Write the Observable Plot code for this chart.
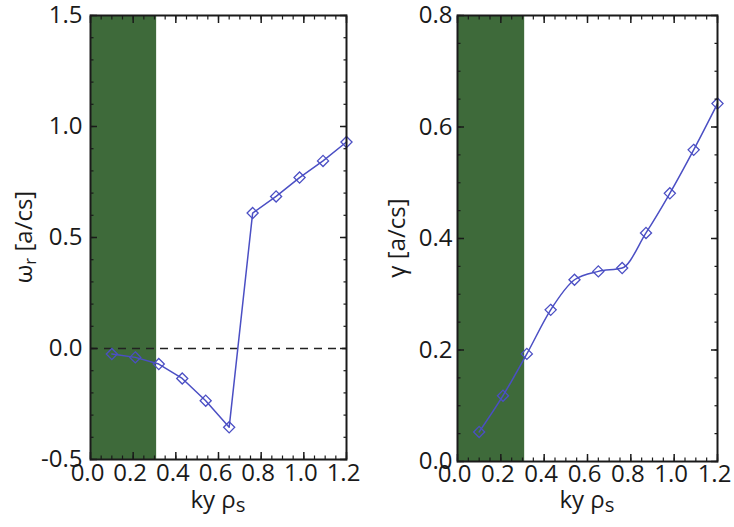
<!DOCTYPE html>
<html><head><meta charset="utf-8">
<script src="https://cdn.jsdelivr.net/npm/d3@7"></script>
<script src="https://cdn.jsdelivr.net/npm/@observablehq/plot@0.6"></script>
<style>
body{margin:0;background:#fff;}
#row{display:flex;width:734px;height:527px;overflow:hidden;}
#row svg{display:block;overflow:visible;}
</style></head><body><div id="row"></div>
<script>
// ---- data ----
const ky = [0.10, 0.21, 0.32, 0.43, 0.54, 0.65, 0.76, 0.87, 0.98, 1.09, 1.20];
const omegaR = [-0.025, -0.04, -0.07, -0.135, -0.235, -0.355, 0.61, 0.685, 0.77, 0.845, 0.93];
const gammaV = [0.053, 0.118, 0.193, 0.272, 0.326, 0.341, 0.347, 0.41, 0.481, 0.559, 0.642];
const bandKy = [0, 0.31];
const xTicks = [0, 0.2, 0.4, 0.6, 0.8, 1.0, 1.2];
const xMinor = [0,0.05,0.1,0.15,0.2,0.25,0.3,0.35,0.4,0.45,0.5,0.55,0.6,0.65,0.7,0.75,0.8,0.85,0.9,0.95,1.0,1.05,1.1,1.15,1.2];
const omegaTicks = [-0.5, 0.0, 0.5, 1.0, 1.5];
const omegaMinor = [-0.5,-0.4,-0.3,-0.2,-0.1,0,0.1,0.2,0.3,0.4,0.5,0.6,0.7,0.8,0.9,1.0,1.1,1.2,1.3,1.4,1.5];
const gammaTicks = [0.0, 0.2, 0.4, 0.6, 0.8];
const gammaMinor = [0,0.05,0.1,0.15,0.2,0.25,0.3,0.35,0.4,0.45,0.5,0.55,0.6,0.65,0.7,0.75,0.8];
const zeroLine = [0];

const GREEN = "#3e6a3a";
const BLUE = "#4b4fc4";
const INK = "#1a1a1a";
const fmt = d => d.toFixed(1);

function panel(o) {
  const data = ky.map((k, i) => ({k, v: o.values[i]}));
  const hidden = {fill: "none", label: null};
  const marks = [
    Plot.rect([bandKy], {x1: d => d[0], x2: d => d[1], fill: GREEN}),
    o.zero ? Plot.ruleY(zeroLine, {stroke: "#222", strokeWidth: 1.5, strokeDasharray: "8,6"}) : null,
    Plot.line(data, {x: "k", y: "v", stroke: BLUE, strokeWidth: 1.5, curve: o.curve}),
    Plot.dot(data, {x: "k", y: "v", symbol: "diamond2", r: 5, stroke: BLUE, strokeWidth: 1.3, fill: "none"}),
    // tick labels
    Plot.axisX({anchor: "bottom", ticks: xTicks, tickSize: 0, tickPadding: o.xPad, tickFormat: fmt, fontSize: 24, fill: INK, dx: -3, label: null}),
    Plot.axisY({anchor: "left", ticks: o.yTicks, tickSize: 0, tickPadding: o.yPad, tickFormat: fmt, fontSize: 24, fill: INK, label: null}),
    // inward ticks on all four sides
    Plot.axisX({anchor: "bottom", ticks: xTicks, tickSize: -7, stroke: INK, strokeWidth: 1.5, tickFormat: () => "", ...hidden}),
    Plot.axisX({anchor: "bottom", ticks: xMinor, tickSize: -3.5, stroke: INK, strokeWidth: 1.2, tickFormat: () => "", ...hidden}),
    Plot.axisX({anchor: "top", ticks: xTicks, tickSize: -7, stroke: INK, strokeWidth: 1.5, tickFormat: () => "", ...hidden}),
    Plot.axisX({anchor: "top", ticks: xMinor, tickSize: -3.5, stroke: INK, strokeWidth: 1.2, tickFormat: () => "", ...hidden}),
    Plot.axisY({anchor: "left", ticks: o.yTicks, tickSize: -7, stroke: INK, strokeWidth: 1.5, tickFormat: () => "", ...hidden}),
    Plot.axisY({anchor: "left", ticks: o.yMinor, tickSize: -3.5, stroke: INK, strokeWidth: 1.2, tickFormat: () => "", ...hidden}),
    Plot.axisY({anchor: "right", ticks: o.yTicks, tickSize: -7, stroke: INK, strokeWidth: 1.5, tickFormat: () => "", ...hidden}),
    Plot.axisY({anchor: "right", ticks: o.yMinor, tickSize: -3.5, stroke: INK, strokeWidth: 1.2, tickFormat: () => "", ...hidden}),
    Plot.frame({stroke: INK, strokeWidth: 2})
  ].filter(Boolean);
  const svg = Plot.plot({
    width: 367, height: 527,
    marginLeft: 90, marginRight: o.mr, marginTop: 15, marginBottom: o.mb,
    x: {domain: [0, 1.2]},
    y: {domain: o.yDomain},
    style: {fontFamily: "'Open Sans', sans-serif", color: INK, background: "white"},
    marks
  });
  const s = d3.select(svg);
  // x-axis title: ky ρ_s
  const xt = s.append("text")
    .attr("x", 90 + (367 - 90 - o.mr) / 2).attr("y", 508)
    .attr("text-anchor", "middle").attr("font-size", 24).attr("fill", INK)
    .attr("font-family", "'Open Sans', sans-serif");
  xt.append("tspan").text("ky ρ");
  xt.append("tspan").attr("dy", "0.2em").attr("font-size", "85%").text("s");
  // y-axis title
  const yc = 15 + (527 - 15 - o.mb) / 2;
  const yt = s.append("text")
    .attr("transform", `translate(${o.yLabelX},${yc}) rotate(-90)`)
    .attr("text-anchor", "middle").attr("font-size", 24).attr("fill", INK)
    .attr("font-family", "'Open Sans', sans-serif");
  o.yLabel(yt);
  return svg;
}

const row = document.getElementById("row");
row.appendChild(panel({
  values: omegaR, yDomain: [-0.5, 1.5], yTicks: omegaTicks, yMinor: omegaMinor,
  zero: true, curve: "linear", mr: 21, mb: 68, xPad: 4, yPad: 8, yLabelX: 32,
  yLabel: t => {
    t.append("tspan").text("ω");
    t.append("tspan").attr("dy", "0.25em").attr("font-size", "70%").text("r");
    t.append("tspan").attr("dy", "-0.18em").text(" [a/cs]");
  }
}));
row.appendChild(panel({
  values: gammaV, yDomain: [0, 0.8], yTicks: gammaTicks, yMinor: gammaMinor,
  zero: false, curve: "monotone-x", mr: 17, mb: 66, xPad: 3, yPad: 5, yLabelX: 38,
  yLabel: t => { t.append("tspan").text("γ [a/cs]"); }
}));
</script>
</body></html>
